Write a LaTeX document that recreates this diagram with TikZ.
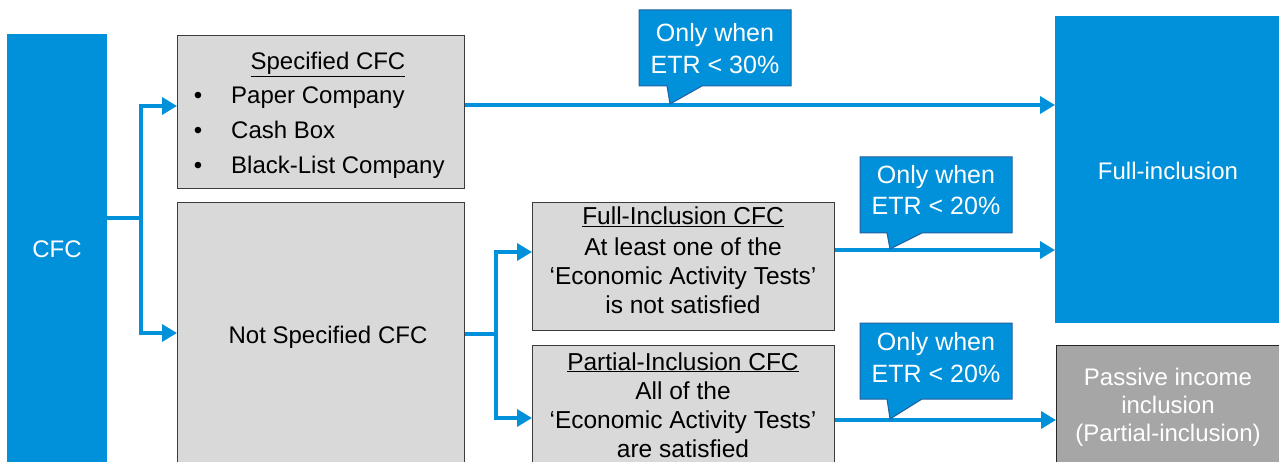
\documentclass[tikz,border=0pt]{standalone}
\usepackage{fontspec}
\setmainfont{Liberation Sans}
\usetikzlibrary{arrows.meta,calc}
\definecolor{kblue}{RGB}{0,145,218}
\definecolor{kdark}{RGB}{35,95,160}
\definecolor{boxgray}{RGB}{217,217,217}
\definecolor{boxline}{RGB}{60,60,60}
\definecolor{passgray}{RGB}{166,166,166}
\begin{document}
\begin{tikzpicture}[x=1pt,y=-1pt,
  graybox/.style={draw=boxline, line width=1.2pt, fill=boxgray, anchor=north west, inner sep=0pt},
  passbox/.style={draw=black!85, line width=1.2pt, fill=passgray, anchor=north west, inner sep=0pt},
  bluebox/.style={fill=kblue, anchor=north west, inner sep=0pt},
  ln/.style={draw=kblue, line width=3.5pt},
  arr/.style={draw=kblue, line width=3.5pt, -{Triangle[length=15pt,width=17pt]}},
  calloutshape/.style={fill=kblue, draw=kdark, line width=1pt},
  btxt/.style={anchor=base, inner sep=0pt, font=\fontsize{24}{28}\selectfont},
  stxt/.style={anchor=base, inner sep=0pt, font=\fontsize{24.5}{28}\selectfont},
  wtxt/.style={anchor=base, inner sep=0pt, text=white, font=\fontsize{24}{28}\selectfont},
  ctxt/.style={anchor=base, inner sep=0pt, text=white, font=\fontsize{25}{28}\selectfont},
]
\clip (0,0) rectangle (1279,462);
\useasboundingbox (0,0) rectangle (1279,462);

% boxes
\node[bluebox, minimum width=100pt, minimum height=440pt] (cfc) at (7,34) {};
\node[graybox, minimum width=287pt, minimum height=153pt] (spec) at (177,35) {};
\node[graybox, minimum width=287pt, minimum height=270pt] (nspec) at (177,202) {};
\node[graybox, minimum width=302pt, minimum height=128pt] (fcfc) at (532,202) {};
\node[graybox, minimum width=302pt, minimum height=130pt] (pcfc) at (532,345) {};
\node[bluebox, minimum width=240pt, minimum height=307pt] (full) at (1055,16) {};
\node[passbox, minimum width=240pt, minimum height=140pt] (pass) at (1056,345) {};

% texts
\node[wtxt] (tcfc) at (57,258) {CFC};
\node[btxt] (tspec) at (328,70) {\underline{Specified CFC}};
\node[btxt] (b1) at (198,104) {•};
\node[btxt] (b2) at (198,139) {•};
\node[btxt] (b3) at (198,174) {•};
\node[btxt, anchor=base west] (t1) at (231,104) {Paper Company};
\node[btxt, anchor=base west] (t2) at (231,139) {Cash Box};
\node[btxt, anchor=base west] (t3) at (231,174) {Black-List Company};
\node[btxt] (tnspec) at (328,343) {Not Specified CFC};

\node[stxt] (f1) at (683,225) {\underline{Full-Inclusion CFC}};
\node[stxt] (f2) at (683,255) {At least one of the};
\node[stxt] (f3) at (683,284) {‘Economic Activity Tests’};
\node[stxt] (f4) at (683,313) {is not satisfied};

\node[stxt] (p1) at (683,370) {\underline{Partial-Inclusion CFC}};
\node[stxt] (p2) at (683,399) {All of the};
\node[stxt] (p3) at (683,428) {‘Economic Activity Tests’};
\node[stxt] (p4) at (683,457) {are satisfied};

\node[wtxt] (tfull) at (1168,180) {Full-inclusion};
\node[wtxt] (q1) at (1168,385) {Passive income};
\node[wtxt] (q2) at (1168,413) {inclusion};
\node[wtxt] (q3) at (1168,441) {(Partial-inclusion)};

% connectors
\coordinate (j1) at (141,218);
\coordinate (j2) at (496,334);
\draw[ln] (cfc.east |- j1) -- (j1);
\draw[arr] (j1) |- (spec.west |- 0,106);
\draw[arr] (j1) |- (nspec.west |- 0,333);
\draw[ln] (nspec.east |- j2) -- (j2);
\draw[arr] (j2) |- (fcfc.west |- 0,252);
\draw[arr] (j2) |- (pcfc.west |- 0,418);
\draw[arr] (spec.east |- 0,105) -- (full.west |- 0,105);
\draw[arr] (fcfc.east |- 0,250) -- (full.west |- 0,250);
\draw[arr] (pcfc.east |- 0,420) -- (pass.west |- 0,420);

% callouts
\draw[calloutshape] (639,10) -- (791,10) -- (791,86) -- (702,86) -- (670,104) -- (667,86) -- (639,86) -- cycle;
\node[ctxt] (c1a) at (715,42) {Only when};
\node[ctxt] (c1b) at (715,74) {ETR < 30\%};

\draw[calloutshape] (860,157) -- (1012,157) -- (1012,233) -- (922,233) -- (890,249) -- (887,233) -- (860,233) -- cycle;
\node[ctxt] (c2a) at (936,184) {Only when};
\node[ctxt] (c2b) at (936,215) {ETR < 20\%};

\draw[calloutshape] (860,323) -- (1012,323) -- (1012,399) -- (922,399) -- (890,419) -- (887,399) -- (860,399) -- cycle;
\node[ctxt] (c3a) at (936,350) {Only when};
\node[ctxt] (c3b) at (936,382) {ETR < 20\%};
\end{tikzpicture}
\end{document}
